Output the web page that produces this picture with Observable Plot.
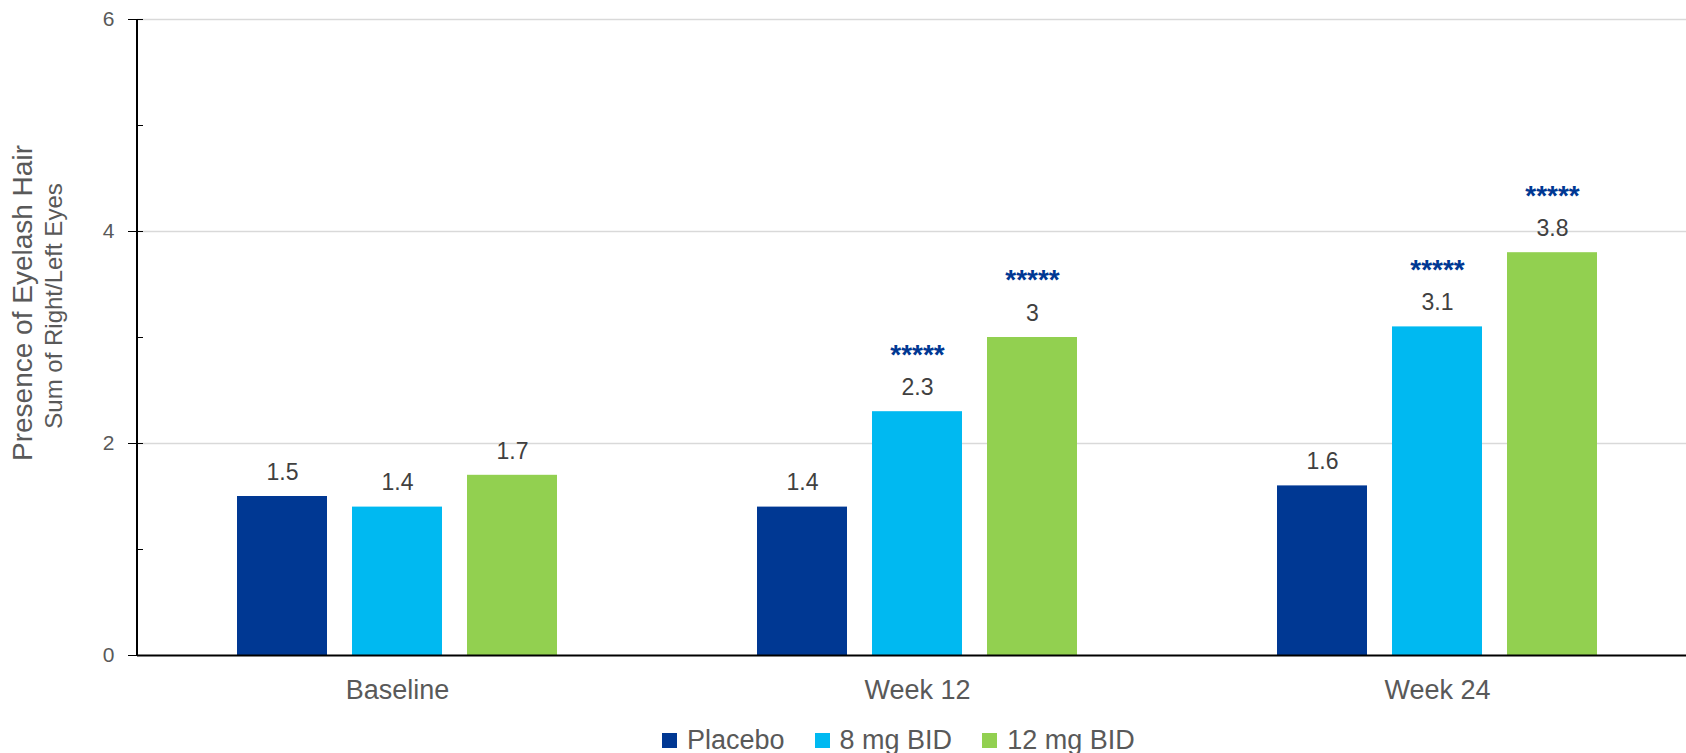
<!DOCTYPE html>
<html><head><meta charset="utf-8">
<script src="https://cdn.jsdelivr.net/npm/d3@7"></script>
<script src="https://cdn.jsdelivr.net/npm/@observablehq/plot@0.6"></script>
<style>
body{margin:0;background:#fff;font-family:"Liberation Sans",Arial,sans-serif;}
#wrap{position:relative;width:1686px;height:753px;overflow:hidden;background:#fff;}
#legend{position:absolute;left:662px;top:726px;height:28px;display:flex;align-items:center;font-size:27px;color:#595959;white-space:nowrap;}
.item{display:flex;align-items:center;margin-right:30px;}
.sw{width:15px;height:15px;margin-right:10px;}
</style></head><body><div id="wrap"></div>
<script>
const groups = ["Baseline", "Week 12", "Week 24"];
const series = ["Placebo", "8 mg BID", "12 mg BID"];
const colors = ["#003893", "#00B9F1", "#92D050"];
const placeboValues = [1.5, 1.4, 1.6];
const mg8Values = [1.4, 2.3, 3.1];
const mg12Values = [1.7, 3.0, 3.8];
const placeboSig = ["", "", ""];
const mg8Sig = ["", "*****", "*****"];
const mg12Sig = ["", "*****", "*****"];
const yMajorTicks = [0, 2, 4, 6];
const yMinorTicks = [1, 3, 5];
const yTitle = "Presence of Eyelash Hair";
const ySubtitle = "Sum of Right/Left Eyes";

const valuesBySeries = [placeboValues, mg8Values, mg12Values];
const sigBySeries = [placeboSig, mg8Sig, mg12Sig];
const rows = [];
groups.forEach((g, gi) => series.forEach((s, si) => rows.push({group: g, series: s, value: valuesBySeries[si][gi], sig: sigBySeries[si][gi]})));

const chart = Plot.plot({
  width: 1686, height: 712,
  marginLeft: 137, marginTop: 19, marginBottom: 57, marginRight: 0,
  style: {fontFamily: "Liberation Sans, Arial, sans-serif", background: "white", overflow: "hidden"},
  fx: {domain: groups, range: [137, 1697], padding: 0, label: null},
  x: {domain: series, paddingInner: 25 / 115, paddingOuter: 100 / 115, axis: null},
  y: {domain: [0, 6], label: null},
  color: {domain: series, range: colors},
  marks: [
    Plot.gridY(yMajorTicks.filter(d => d > 0), {stroke: "#d9d9d9", strokeOpacity: 1, strokeWidth: 1.5}),
    Plot.barY(rows, {fx: "group", x: "series", y: "value", fill: "series"}),
    Plot.ruleY([0], {stroke: "#000", strokeWidth: 2}),
    Plot.axisY(yMajorTicks, {tickSize: 9, tickPadding: 14, fontSize: 21, tickFormat: d => String(d), stroke: "#000", fill: "#595959", label: null}),
    Plot.axisY(yMinorTicks.concat(yMajorTicks), {tickSize: -6, tickFormat: () => "", stroke: "#000", label: null}),
    Plot.axisFx({anchor: "bottom", fontSize: 27, tickSize: 0, tickPadding: 24, fill: "#595959", label: null}),
    Plot.text(rows, {fx: "group", x: "series", y: "value", text: d => String(d.value), dy: -24, fontSize: 23, fill: "#404040"}),
    Plot.text(rows.filter(d => d.sig), {fx: "group", x: "series", y: "value", text: "sig", dy: -57, fontSize: 28, fontWeight: "bold", fill: "#003893"})
  ]
});

const svg = d3.select(chart);
const ys = chart.scale("y");
const fxs = chart.scale("fx");
svg.append("line")
  .attr("x1", fxs.range[0]).attr("x2", fxs.range[0])
  .attr("y1", ys.apply(0) + 1).attr("y2", ys.apply(6))
  .attr("stroke", "#000").attr("stroke-width", 2);
svg.append("text").text(yTitle)
  .attr("transform", "translate(32,303) rotate(-90)")
  .attr("text-anchor", "middle").attr("font-size", 28).attr("fill", "#595959");
svg.append("text").text(ySubtitle)
  .attr("transform", "translate(62,306) rotate(-90)")
  .attr("text-anchor", "middle").attr("font-size", 24).attr("fill", "#595959");

const wrap = document.getElementById("wrap");
wrap.appendChild(chart);
const legend = document.createElement("div");
legend.id = "legend";
series.forEach((s, i) => {
  const item = document.createElement("div");
  item.className = "item";
  const sw = document.createElement("span");
  sw.className = "sw";
  sw.style.background = colors[i];
  const label = document.createElement("span");
  label.textContent = s;
  item.appendChild(sw); item.appendChild(label);
  legend.appendChild(item);
});
wrap.appendChild(legend);
</script></body></html>
